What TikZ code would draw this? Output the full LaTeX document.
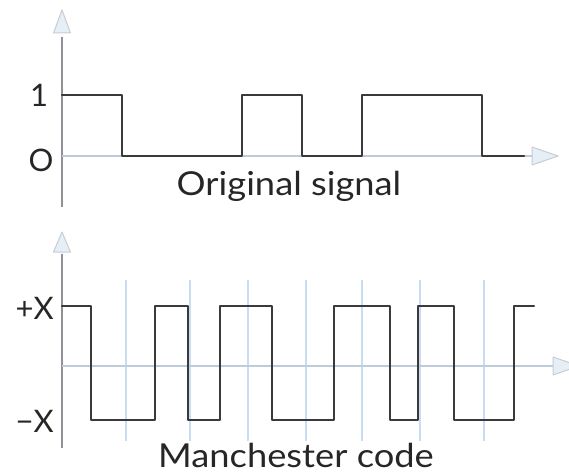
\documentclass[tikz,border=0pt]{standalone}
\usepackage{fontspec}
\setmainfont{Lato}
\definecolor{axgrey}{HTML}{8E9296}
\definecolor{axblue}{HTML}{BCCCDC}
\definecolor{gridblue}{HTML}{C9DCF2}
\definecolor{sigcol}{HTML}{3A3A3A}
\definecolor{headfill}{HTML}{E6EEF6}
\definecolor{headdraw}{HTML}{C6CDD4}
\newcommand{\widetext}[1]{\scalebox{1.1}[1]{#1}}
\begin{document}
\begin{tikzpicture}[x=1pt,y=-1pt,
  vaxis/.style={draw=axgrey,line width=1.6pt},
  haxis/.style={draw=axblue,line width=1.6pt},
  gridline/.style={draw=gridblue,line width=1.2pt},
  signal/.style={draw=sigcol,line width=2.3pt,line join=round,line cap=round},
  head/.style={fill=headfill,draw=headdraw,line width=1pt,line join=round},
  lbl/.style={font=\fontsize{31}{36}\selectfont,text=black!85,inner sep=0pt},
  title/.style={font=\fontsize{33}{38}\selectfont,text=black!85,inner sep=0pt,anchor=base}]
\useasboundingbox (0,0) rectangle (569,473);

% ---------- upper plot: original signal ----------
\draw[vaxis] (62,37) -- (62,207);
\draw[haxis] (62,156) -- (532,156);
\draw[head] (62,10) -- (70.5,33) -- (53.5,33) -- cycle;
\draw[head] (558,156) -- (532,147) -- (532,165) -- cycle;

\draw[signal] (62,95) -- (122,95) -- (122,156) -- (242,156) -- (242,95)
  -- (302,95) -- (302,156) -- (362,156) -- (362,95) -- (482,95)
  -- (482,156) -- (524,156);

\node[lbl,anchor=base] (one) at (39,107) {1};
\node[lbl,anchor=base] (zero) at (41,171) {O};
\node[title] (orig) at (289,195) {\widetext{Original signal}};

% ---------- lower plot: Manchester code ----------
\foreach \gx in {126,190,248,306,362,420,484}
  \draw[gridline] (\gx,280) -- (\gx,441);
\draw[vaxis] (62,254) -- (62,448);
\draw[haxis] (62,366) -- (553,366);
\draw[head] (62,232) -- (70.5,252) -- (53.5,252) -- cycle;
\draw[head] (579,366) -- (553,357) -- (553,375) -- cycle;

\draw[signal] (62,306) -- (91,306) -- (91,420) -- (155,420) -- (155,306)
  -- (188,306) -- (188,420) -- (220,420) -- (220,306) -- (272,306)
  -- (272,420) -- (334,420) -- (334,306) -- (390,306) -- (390,420)
  -- (418,420) -- (418,306) -- (454,306) -- (454,420) -- (514,420)
  -- (514,306) -- (534,306);

\node[lbl,anchor=base east] (plusx) at (54,319) {+X};
\node[lbl,anchor=base east] (minusx) at (54,432) {−X};
\node[title] (manch) at (296,467) {\widetext{Manchester code}};
\end{tikzpicture}
\end{document}
